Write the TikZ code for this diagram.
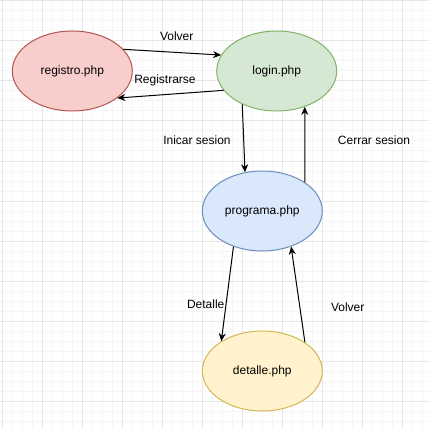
\documentclass[tikz,border=0pt]{standalone}
\usepackage{fontspec}
\setmainfont{Liberation Sans}
\usepackage{xcolor}
\definecolor{rojofondo}{HTML}{F8CECC}
\definecolor{rojoborde}{HTML}{B85450}
\definecolor{verdefondo}{HTML}{D5E8D4}
\definecolor{verdeborde}{HTML}{82B366}
\definecolor{azulfondo}{HTML}{DAE8FC}
\definecolor{azulborde}{HTML}{6C8EBF}
\definecolor{amarillofondo}{HTML}{FFF2CC}
\definecolor{amarilloborde}{HTML}{D6B656}
\definecolor{rejilla}{HTML}{E6E6E6}
\definecolor{rejillafina}{HTML}{F5F5F5}
\usetikzlibrary{arrows.meta,shapes.geometric}

\begin{document}
\begin{tikzpicture}[
  x=1pt,y=-1pt,
  pagina/.style={ellipse,draw,line width=1pt,minimum width=120pt,minimum height=80pt,inner sep=0pt,font=\fontsize{12}{14}\selectfont},
  etiqueta/.style={inner sep=0pt,font=\fontsize{12}{14}\selectfont},
  flecha/.style={-{Stealth[length=8pt,width=7pt]},line width=1pt,black}
]
\fill[white] (0,0) rectangle (429,428);
\useasboundingbox (0,0) rectangle (429,428);
\foreach \k in {0,...,42} {
  \draw[rejillafina,line width=1pt] (2.3+10*\k,0) -- (2.3+10*\k,428);
  \draw[rejillafina,line width=1pt] (0,1+10*\k) -- (429,1+10*\k);
}
\foreach \k in {0,...,10} {
  \draw[rejilla,line width=1pt] (2.3+40*\k,0) -- (2.3+40*\k,428);
  \draw[rejilla,line width=1pt] (0,1+40*\k) -- (429,1+40*\k);
}
\node[pagina,draw=rojoborde,fill=rojofondo] (registro) at (72.3,71) {registro.php};
\node[pagina,draw=verdeborde,fill=verdefondo] (login) at (276.7,71) {login.php};
\node[pagina,draw=azulborde,fill=azulfondo] (programa) at (262.3,211) {programa.php};
\node[pagina,draw=amarilloborde,fill=amarillofondo] (detalle) at (262.3,371) {detalle.php};
\draw[flecha] (registro.23.6) -- (login.164.2);
\draw[flecha] (login.200.5) -- (registro.-31.6);
\draw[flecha] (login.224) -- (programa.114.6);
\draw[flecha] (programa.34) -- (login.-52);
\draw[flecha] (programa.231.4) -- (detalle.144.8);
\draw[flecha] (detalle.34.9) -- (programa.-51.9);
\node[etiqueta] (volverarriba) at (176.7,36.5) {Volver};
\node[etiqueta] (registrarse) at (165,80) {Registrarse};
\node[etiqueta] (iniciar) at (197,140) {Inicar sesion};
\node[etiqueta] (cerrar) at (374,140) {Cerrar sesion};
\node[etiqueta] (detallelbl) at (205.7,304) {Detalle};
\node[etiqueta] (volverabajo) at (347.7,307.7) {Volver};
\end{tikzpicture}
\end{document}
